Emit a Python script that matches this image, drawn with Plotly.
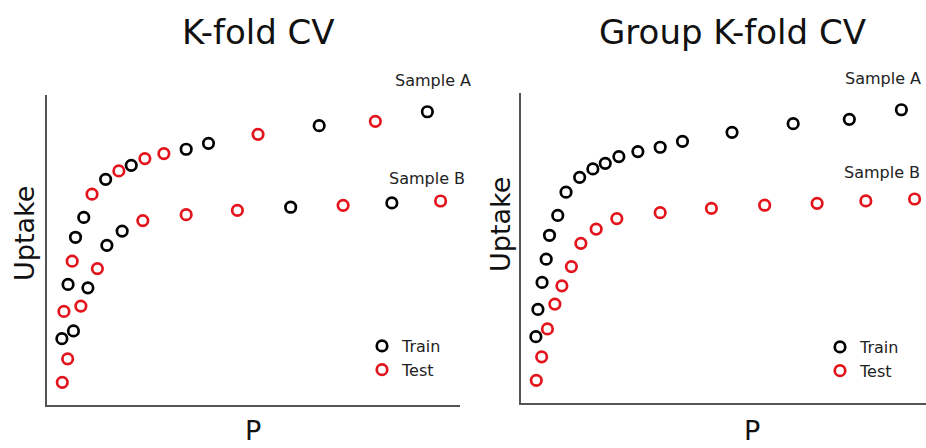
import plotly.graph_objects as go

# Sample A curve (P, Uptake) and fold in plain K-fold CV
pA = [0.36, 0.41, 0.51, 0.61, 0.69, 0.89, 1.09, 1.42, 1.74, 2.04, 2.37, 2.83, 3.37, 3.91, 5.11, 6.59, 7.95, 9.21]
uA = [2.14, 3.02, 3.89, 4.64, 5.41, 6.05, 6.80, 7.28, 7.55, 7.73, 7.95, 8.11, 8.25, 8.44, 8.73, 9.01, 9.15, 9.46]
foldA = ["Train", "Test", "Train", "Test", "Train", "Train", "Test", "Train", "Test",
         "Train", "Test", "Test", "Train", "Train", "Test", "Train", "Test", "Train"]

# Sample B curve
pB = [0.37, 0.50, 0.64, 0.82, 0.99, 1.22, 1.45, 1.82, 2.32, 3.37, 4.61, 5.90, 7.17, 8.35, 9.53]
uB = [0.73, 1.49, 2.39, 3.19, 3.78, 4.40, 5.15, 5.61, 5.95, 6.14, 6.28, 6.38, 6.44, 6.52, 6.58]
foldB = ["Test", "Test", "Train", "Test", "Train", "Test", "Train", "Train", "Test",
         "Test", "Test", "Train", "Test", "Train", "Test"]

# Group K-fold: whole sample assigned
groupA = "Train"
groupB = "Test"

titles = ["K-fold CV", "Group K-fold CV"]
x_label = "P"
y_label = "Uptake"
sample_labels = ["Sample A", "Sample B"]

COLORS = {"Train": "#000000", "Test": "#e3141c"}
W, H = 926, 448
FONT = "DejaVu Sans"

def px(v):
    return v / W

def py(v):
    return (H - v) / H

fig = go.Figure()

def add_panel(xa, ya, legend, assignA, assignB):
    for split in ["Train", "Test"]:
        xs = [p for p, f in zip(pA, assignA) if f == split] + [p for p, f in zip(pB, assignB) if f == split]
        ys = [u for u, f in zip(uA, assignA) if f == split] + [u for u, f in zip(uB, assignB) if f == split]
        fig.add_trace(go.Scatter(
            x=xs, y=ys, mode="markers", name=split, legend=legend,
            xaxis=xa, yaxis=ya, cliponaxis=False,
            marker=dict(symbol="circle-open", size=10.5,
                        line=dict(color=COLORS[split], width=2.7),
                        color=COLORS[split]),
        ))

add_panel("x", "y", "legend", foldA, foldB)
add_panel("x2", "y2", "legend2", [groupA] * len(pA), [groupB] * len(pB))

axis_common = dict(showgrid=False, zeroline=False, showticklabels=False, ticks="",
                   showline=True, linecolor="#555555", linewidth=2)

fig.update_layout(
    width=W, height=H,
    margin=dict(l=0, r=0, t=0, b=0),
    paper_bgcolor="white", plot_bgcolor="white",
    font=dict(family=FONT, color="#222222"),
    xaxis=dict(domain=[px(47), px(460)], range=[0, 10], **axis_common),
    yaxis=dict(domain=[py(405), py(95)], range=[0, 10], **axis_common),
    xaxis2=dict(domain=[px(521), 1.0], range=[0, 405 / 41.3], **axis_common),
    yaxis2=dict(domain=[py(403), py(93)], range=[0, 10], **axis_common, anchor="x2"),
    legend=dict(x=px(362), y=py(329), xanchor="left", yanchor="top",
                font=dict(size=16, family=FONT, color="#222222"),
                bgcolor="rgba(0,0,0,0)", tracegroupgap=0),
    legend2=dict(x=px(820), y=py(330), xanchor="left", yanchor="top",
                 font=dict(size=16, family=FONT, color="#222222"),
                 bgcolor="rgba(0,0,0,0)", tracegroupgap=0),
    showlegend=True,
)
fig.layout.xaxis2.anchor = "y2"

ann = []
# titles
ann.append(dict(text=titles[0], x=px(258), y=py(32), xref="paper", yref="paper",
                xanchor="center", yanchor="middle", showarrow=False,
                font=dict(size=34, family=FONT, color="#111111")))
ann.append(dict(text=titles[1], x=px(732), y=py(32), xref="paper", yref="paper",
                xanchor="center", yanchor="middle", showarrow=False,
                font=dict(size=34, family=FONT, color="#111111")))
# axis labels
for cx in [253, 752]:
    ann.append(dict(text=x_label, x=px(cx), y=0, xref="paper", yref="paper",
                    xanchor="center", yanchor="bottom", showarrow=False,
                    font=dict(size=27, family=FONT, color="#111111")))
for cx, cy in [(24, 234), (501, 225)]:
    ann.append(dict(text=y_label, x=px(cx), y=py(cy), xref="paper", yref="paper",
                    xanchor="center", yanchor="middle", showarrow=False, textangle=-90,
                    font=dict(size=27, family=FONT, color="#111111")))
# sample labels
for (sx, sy), lab in zip([(393, 80), (387, 178)], sample_labels):
    ann.append(dict(text=lab, x=px(sx), y=py(sy), xref="paper", yref="paper",
                    xanchor="left", yanchor="middle", showarrow=False,
                    font=dict(size=16, family=FONT, color="#222222")))
for (sx, sy), lab in zip([(843, 78), (842, 172)], sample_labels):
    ann.append(dict(text=lab, x=px(sx), y=py(sy), xref="paper", yref="paper",
                    xanchor="left", yanchor="middle", showarrow=False,
                    font=dict(size=16, family=FONT, color="#222222")))
fig.update_layout(annotations=ann)

fig.write_html("out.html")
